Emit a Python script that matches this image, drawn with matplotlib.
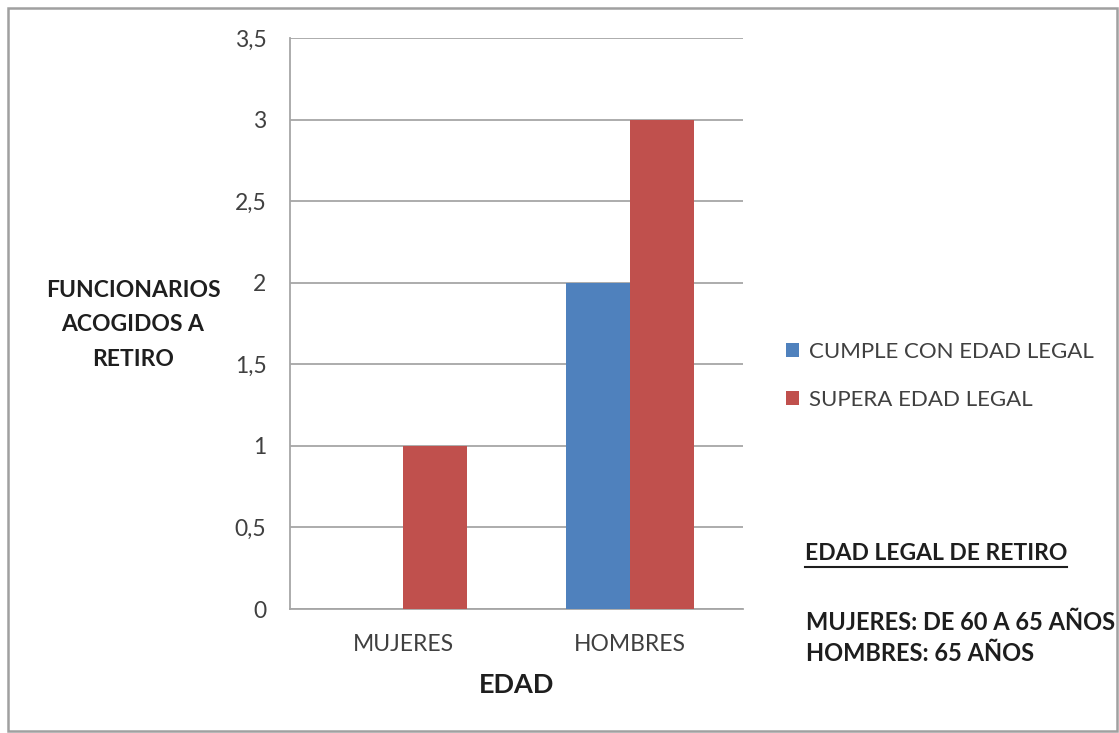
import numpy as np
import matplotlib
matplotlib.use("Agg")
import matplotlib.pyplot as plt
from matplotlib.patches import Rectangle

plt.rcParams['font.family'] = ['Lato', 'DejaVu Sans']

# datos de retiro por sexo
categorias = ["MUJERES", "HOMBRES"]
cumple = [0, 2]
supera = [1, 3]
series = ["CUMPLE CON EDAD LEGAL", "SUPERA EDAD LEGAL"]
yticks = [0, 0.5, 1, 1.5, 2, 2.5, 3, 3.5]
yticklabels = ["0", "0,5", "1", "1,5", "2", "2,5", "3", "3,5"]

azul = "#4F81BD"
rojo = "#C0504D"
texto = "#404040"
negro = "#1e1e1e"

fig = plt.figure(figsize=(11.19, 7.33), dpi=100)
W, H = 1119, 733
ax = fig.add_axes([290 / W, 1 - 609 / H, 453 / W, (609 - 38) / H])

x = np.arange(len(categorias))
ancho = 0.283
ax.bar(x - ancho / 2, cumple, ancho, color=azul, label=series[0], zorder=3)
ax.bar(x + ancho / 2, supera, ancho, color=rojo, label=series[1], zorder=3)

ax.set_xlim(-0.5, 1.5)
ax.set_ylim(0, 3.5)
ax.set_yticks(yticks)
ax.set_yticklabels(yticklabels, fontsize=16.5, color=texto)
ax.set_xticks(x)
ax.set_xticklabels(categorias, fontsize=16.5, color=texto)
ax.tick_params(axis='x', length=0, pad=18)
ax.tick_params(axis='y', length=0, pad=17)
ax.grid(axis='y', color="#a6a6a6", linewidth=1.3, zorder=0)
for s in ['top', 'right']:
    ax.spines[s].set_visible(False)
ax.spines['left'].set_color("#a6a6a6")
ax.spines['bottom'].set_color("#a6a6a6")
ax.spines['left'].set_linewidth(1.3)
ax.spines['bottom'].set_linewidth(1.3)

ax.set_xlabel("EDAD", fontsize=19.5, fontweight='bold', color=negro, labelpad=13)

fig.text(133 / W, 1 - 325 / H, "FUNCIONARIOS\nACOGIDOS A\nRETIRO", ha='center', va='center',
         fontsize=16.5, fontweight='bold', color=negro, linespacing=1.82)

fig.legend(loc='upper left', bbox_to_anchor=(766 / W, 1 - 322 / H), frameon=False,
           fontsize=16, handlelength=0.6, handleheight=0.6, handletextpad=0.45,
           labelspacing=1.25, labelcolor=texto)

fig.text(805 / W, 1 - 554 / H, "EDAD LEGAL DE RETIRO", ha='left', va='center',
         fontsize=16.5, fontweight='bold', color=negro)
fig.add_artist(plt.Line2D([805 / W, 1067 / W], [1 - 567 / H, 1 - 567 / H], color=negro, linewidth=1.5))
fig.text(806 / W, 1 - 638 / H, "MUJERES: DE 60 A 65 AÑOS\nHOMBRES: 65 AÑOS", ha='left', va='center',
         fontsize=17, fontweight='bold', color=negro, linespacing=1.4)

# marco exterior
fig.add_artist(Rectangle((8 / W, 1 - 731 / H), 1109 / W, 723 / H, transform=fig.transFigure,
                         fill=False, edgecolor="#a0a0a0", linewidth=1.8))

fig.savefig("out.png", dpi=100)
